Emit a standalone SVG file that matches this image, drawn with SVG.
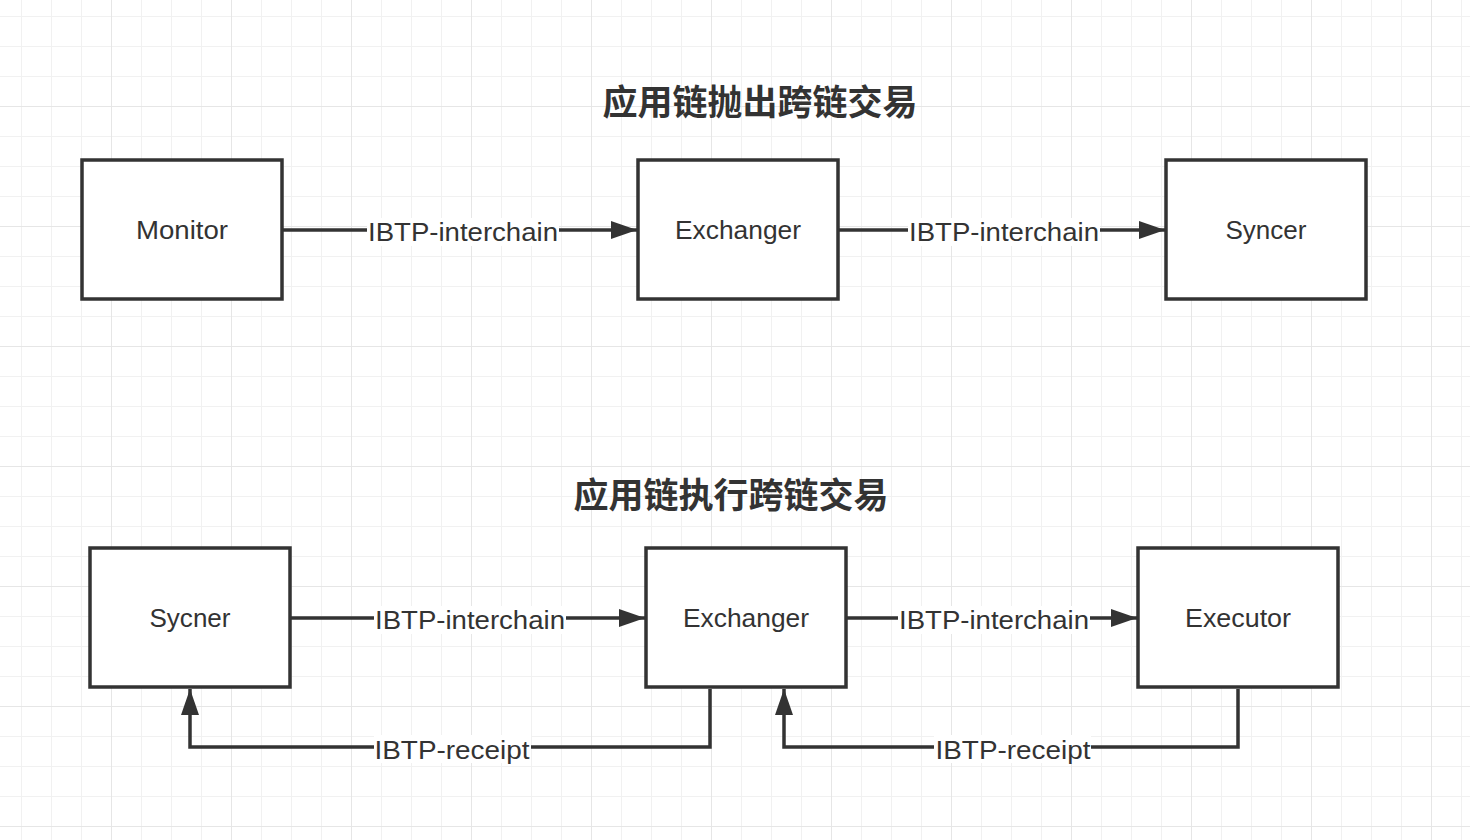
<svg xmlns="http://www.w3.org/2000/svg" width="1470" height="840" viewBox="0 0 1470 840">
<defs>
<pattern id="minor" x="21" y="16" width="30" height="30" patternUnits="userSpaceOnUse">
<path d="M0 0H30M0 0V30" fill="none" stroke="#f1f1f1" stroke-width="2"/>
</pattern>
<pattern id="major" x="111" y="106" width="120" height="120" patternUnits="userSpaceOnUse">
<path d="M0 0H120M0 0V120" fill="none" stroke="#e6e6e6" stroke-width="2"/>
</pattern>
<marker id="arr" markerUnits="userSpaceOnUse" markerWidth="27" markerHeight="19" refX="26" refY="9" orient="auto" overflow="visible">
<path d="M0 0L26 9L0 18Z" fill="#333"/>
</marker>
<style>
.box{fill:#fff;stroke:#333;stroke-width:3.5}
.lbl{font-family:"Liberation Sans",Arial,sans-serif;font-size:26px;fill:#333;text-anchor:middle;dominant-baseline:central}
.title{font-family:"Noto Sans CJK SC",sans-serif;font-size:35px;font-weight:bold;fill:#333;text-anchor:middle;dominant-baseline:central}
.edge{fill:none;stroke:#333;stroke-width:3.5}
.bg{fill:#fff}
</style>
</defs>
<rect width="1470" height="840" fill="#fff"/>
<rect width="1470" height="840" fill="url(#minor)"/>
<rect width="1470" height="840" fill="url(#major)"/>

<text class="title" x="760" y="99">应用链抛出跨链交易</text>
<text class="title" x="731" y="492">应用链执行跨链交易</text>

<g id="connectors">
<path class="edge" d="M283 230H637" marker-end="url(#arr)"/>
<path class="edge" d="M839 230H1165" marker-end="url(#arr)"/>
<path class="edge" d="M291 618H645" marker-end="url(#arr)"/>
<path class="edge" d="M847 618H1137" marker-end="url(#arr)"/>
<path class="edge" d="M710 689V747H190V689" marker-end="url(#arr)"/>
<path class="edge" d="M1238 689V747H784V689" marker-end="url(#arr)"/>
<rect class="bg" x="367" y="218" width="192" height="28"/>
<text class="lbl" x="463" y="232" textLength="190" lengthAdjust="spacingAndGlyphs">IBTP-interchain</text>
<rect class="bg" x="908" y="218" width="192" height="28"/>
<text class="lbl" x="1004" y="232" textLength="190" lengthAdjust="spacingAndGlyphs">IBTP-interchain</text>
<rect class="bg" x="374" y="606" width="192" height="28"/>
<text class="lbl" x="470" y="620" textLength="190" lengthAdjust="spacingAndGlyphs">IBTP-interchain</text>
<rect class="bg" x="898" y="606" width="192" height="28"/>
<text class="lbl" x="994" y="620" textLength="190" lengthAdjust="spacingAndGlyphs">IBTP-interchain</text>
<rect class="bg" x="374" y="735" width="157" height="28"/>
<text class="lbl" x="452" y="750" textLength="155" lengthAdjust="spacingAndGlyphs">IBTP-receipt</text>
<rect class="bg" x="934" y="735" width="157" height="28"/>
<text class="lbl" x="1013" y="750" textLength="155" lengthAdjust="spacingAndGlyphs">IBTP-receipt</text>
</g>

<g id="monitor"><rect class="box" x="82" y="160" width="200" height="139"/><text class="lbl" x="182" y="230" textLength="92" lengthAdjust="spacingAndGlyphs">Monitor</text></g>
<g id="exchanger1"><rect class="box" x="638" y="160" width="200" height="139"/><text class="lbl" x="738" y="230" textLength="126" lengthAdjust="spacingAndGlyphs">Exchanger</text></g>
<g id="syncer"><rect class="box" x="1166" y="160" width="200" height="139"/><text class="lbl" x="1266" y="230" textLength="81" lengthAdjust="spacingAndGlyphs">Syncer</text></g>
<g id="sycner"><rect class="box" x="90" y="548" width="200" height="139"/><text class="lbl" x="190" y="618" textLength="81" lengthAdjust="spacingAndGlyphs">Sycner</text></g>
<g id="exchanger2"><rect class="box" x="646" y="548" width="200" height="139"/><text class="lbl" x="746" y="618" textLength="126" lengthAdjust="spacingAndGlyphs">Exchanger</text></g>
<g id="executor"><rect class="box" x="1138" y="548" width="200" height="139"/><text class="lbl" x="1238" y="618" textLength="106" lengthAdjust="spacingAndGlyphs">Executor</text></g>
</svg>
